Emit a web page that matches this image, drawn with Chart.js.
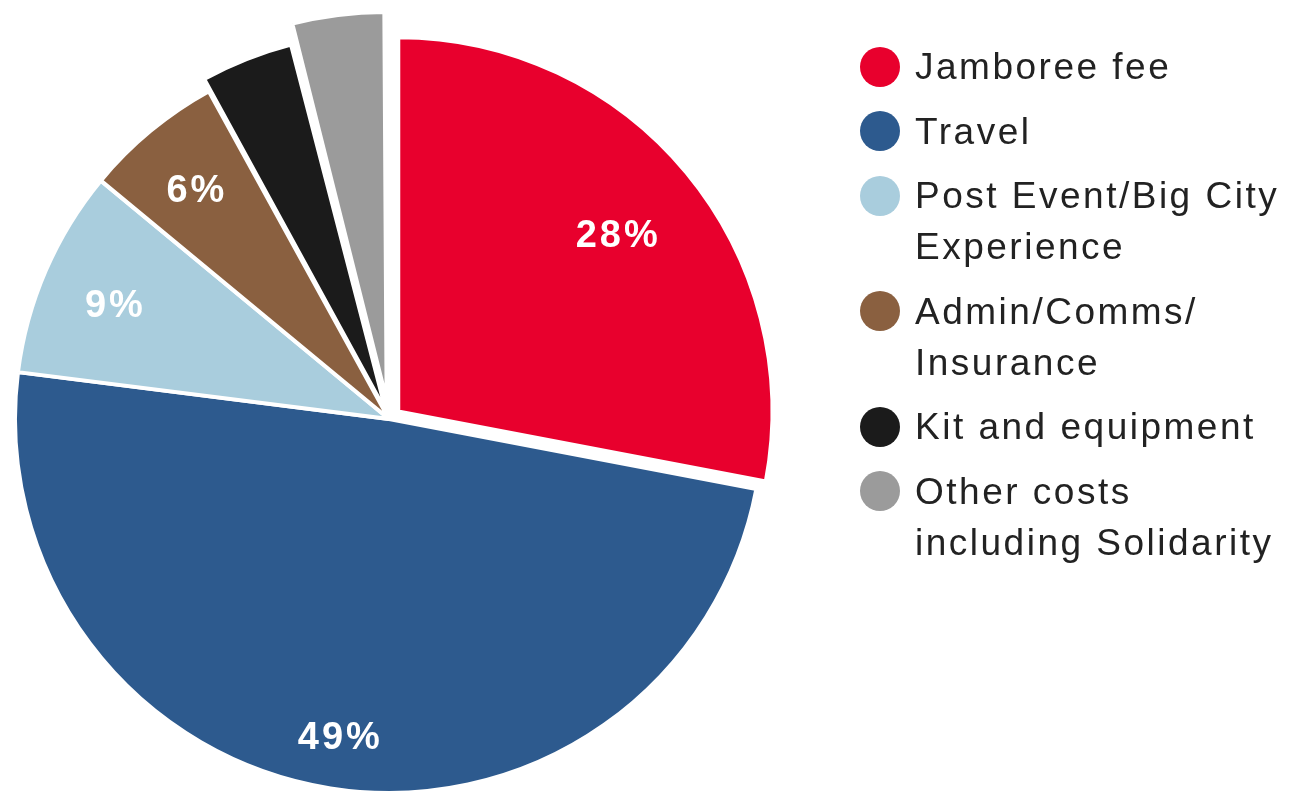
<!DOCTYPE html>
<html>
<head>
<meta charset="utf-8">
<script src="https://cdn.jsdelivr.net/npm/chart.js@4.4.1/dist/chart.umd.min.js"></script>
<style>
  html, body { margin: 0; padding: 0; background: #ffffff; }
  #wrap { position: relative; width: 1291px; height: 796px; overflow: hidden; }
  #chartBox { position: absolute; left: 0; top: 0; width: 1291px; height: 796px; }
  #legend { position: absolute; left: 860px; top: 41px; font-family: "Liberation Sans", Arial, Helvetica, sans-serif; font-size: 37px; letter-spacing: 2.5px; color: #222222; }
  .item { position: relative; padding-left: 55px; line-height: 51px; margin-bottom: 13.5px; }
  .dot { position: absolute; left: 0; top: 5.5px; width: 40px; height: 40px; border-radius: 50%; }
</style>
</head>
<body>
<div id="wrap">
  <div id="chartBox"><canvas id="c"></canvas></div>
  <div id="legend"></div>
</div>
<script>
// ---- data ----
const categories = ["Jamboree fee", "Travel", "Post Event/Big City Experience", "Admin/Comms/Insurance", "Kit and equipment", "Other costs including Solidarity"];
const legendLines = [["Jamboree fee"], ["Travel"], ["Post Event/Big City", "Experience"], ["Admin/Comms/", "Insurance"], ["Kit and equipment"], ["Other costs", "including Solidarity"]];
const shares = [28, 49, 9, 6, 4, 4];
const sliceLabels = ["28%", "49%", "9%", "6%", "", ""];
const colors = ["#e8002d", "#2d5a8e", "#a9cddd", "#8a6040", "#1b1b1b", "#9b9b9b"];

// ---- styles ----
// Chart.js v4 arc offset option (arc is translated by offset/4)
const sliceOffsets = [48, 0, 0, 0, 30, 76];
const labelRadius = [0.76, 0.85, 0.80, 0.81, 0, 0];

const labelPlugin = {
  id: 'sliceLabels',
  afterDatasetsDraw(chart) {
    const ctx = chart.ctx;
    const meta = chart.getDatasetMeta(0);
    ctx.save();
    ctx.fillStyle = '#ffffff';
    ctx.font = 'bold 38px "Liberation Sans", Arial, sans-serif';
    try { ctx.letterSpacing = '3px'; } catch (e) {}
    ctx.textAlign = 'center';
    ctx.textBaseline = 'middle';
    meta.data.forEach((arc, i) => {
      const txt = sliceLabels[i];
      if (!txt) return;
      const p = arc.getProps(['x', 'y', 'startAngle', 'endAngle', 'outerRadius'], true);
      const mid = (p.startAngle + p.endAngle) / 2;
      const off = (arc.options.offset || 0) / 4;
      const d = off + labelRadius[i] * p.outerRadius;
      ctx.fillText(txt, p.x + Math.cos(mid) * d + 1, p.y + Math.sin(mid) * d + 6);
    });
    ctx.restore();
  }
};

new Chart(document.getElementById('c'), {
  type: 'pie',
  data: {
    labels: categories,
    datasets: [{
      data: shares,
      backgroundColor: colors,
      borderColor: '#ffffff',
      borderWidth: 4,
      offset: sliceOffsets,
      hoverOffset: 0,
      clip: false
    }]
  },
  options: {
    responsive: true,
    maintainAspectRatio: false,
    animation: false,
    radius: 374,
    layout: { padding: { left: 0, right: 513, top: 42, bottom: 0 } },
    plugins: {
      legend: { display: false },
      tooltip: { enabled: false }
    }
  },
  plugins: [labelPlugin]
});

// HTML legend built from the arrays
const lg = document.getElementById('legend');
legendLines.forEach((lines, i) => {
  const it = document.createElement('div');
  it.className = 'item';
  const dot = document.createElement('span');
  dot.className = 'dot';
  dot.style.background = colors[i];
  it.appendChild(dot);
  lines.forEach((t, j) => {
    if (j > 0) it.appendChild(document.createElement('br'));
    it.appendChild(document.createTextNode(t));
  });
  lg.appendChild(it);
});
</script>
</body>
</html>
